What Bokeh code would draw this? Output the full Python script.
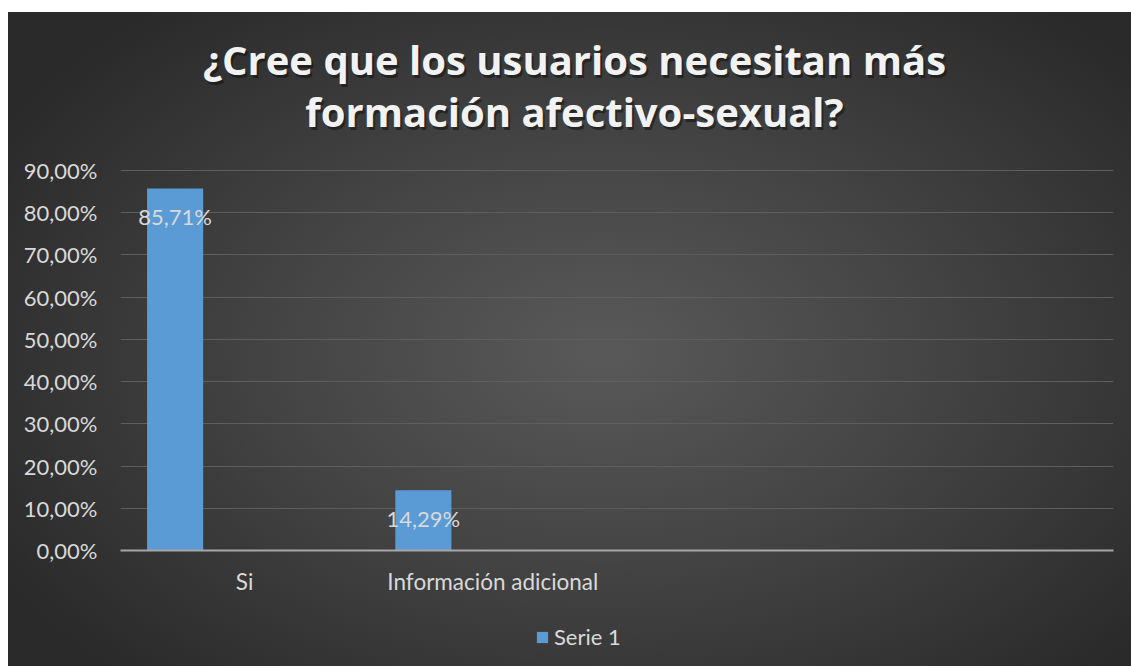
from bokeh.plotting import figure
from bokeh.layouts import column
from bokeh.models import (ColumnDataSource, Legend, LegendItem, Label,
                          CustomJSTickFormatter, FactorRange, Range1d)
from bokeh.core.properties import value
from bokeh.transform import dodge
from bokeh.embed import file_html
from bokeh.resources import INLINE

# ---- data ----
categories = ["Si", "Información adicional", " ", "  "]
bar_categories = ["Si", "Información adicional"]
serie1 = [0.8571, 0.1429]
series_name = "Serie 1"
title_line1 = "¿Cree que los usuarios necesitan más"
title_line2 = "formación afectivo-sexual?"
y_ticks = [0.0, 0.1, 0.2, 0.3, 0.4, 0.5, 0.6, 0.7, 0.8, 0.9]

labels = [f"{v*100:.2f}".replace(".", ",") + "%" for v in serie1]
src = ColumnDataSource(dict(cat=bar_categories, val=serie1, lab=labels))

FONT = "Lato"
TXT = "#d9d9d9"
BAR = "#5b9bd5"

# layout (pixels): frame spans x 120..1113; value axis 0 at y=550, 90% at y=170
W, H, LEG_H = 1131, 666, 50
MAIN_H = H - LEG_H
LEFT, RIGHT, TOP, AXIS_Y, GRID_TOP_Y = 120, 1113, 20, 550, 170
y_max = 0.9 * (AXIS_Y - TOP) / (AXIS_Y - GRID_TOP_Y)   # room above 90% for the title
px_per_unit = (AXIS_Y - GRID_TOP_Y) / 0.9
n_cat = len(categories)
BAR_W = 0.226        # bar width, in category widths
SERIES_SHIFT = -0.28  # first series of a clustered group sits left of centre


def x_at(px):
    return (px - LEFT) / (RIGHT - LEFT) * n_cat


def y_at(px):
    return (AXIS_Y - px) / px_per_unit


bg = ("radial-gradient(ellipse 62% 68% at 53% 52%, #595959 0%, #454545 45%, #2a2a2a 100%) "
      "8px 12px / 1123px 654px no-repeat, #ffffff")

p = figure(width=W, height=MAIN_H, x_range=FactorRange(*categories),
           y_range=Range1d(0, y_max), output_backend="svg", toolbar_location=None,
           min_border_left=LEFT, min_border_right=W - RIGHT, min_border_top=TOP,
           min_border_bottom=MAIN_H - AXIS_Y)
p.background_fill_alpha = 0
p.border_fill_alpha = 0
p.outline_line_color = None

xd = dodge("cat", SERIES_SHIFT, range=p.x_range)
r = p.vbar(x=xd, top="val", width=BAR_W, source=src, fill_color=BAR,
           line_color=None)

p.text(x=xd, y="val", text="lab", source=src, text_align="center",
       text_baseline="middle", y_offset=28, text_color=TXT,
       text_font_size="22px", text_font=value(FONT))

# axes
p.xgrid.grid_line_color = None
p.ygrid.grid_line_color = "#5e5e5e"
p.ygrid.grid_line_width = 1
p.yaxis.ticker = y_ticks
p.ygrid.ticker = y_ticks
p.yaxis.formatter = CustomJSTickFormatter(
    code="return (tick*100).toFixed(2).replace('.', ',') + '%';")
p.yaxis.axis_line_color = None
p.yaxis.major_tick_line_color = None
p.yaxis.major_tick_out = 0
p.yaxis.minor_tick_line_color = None
p.yaxis.major_label_standoff = 23
p.yaxis.major_label_text_font = FONT
p.yaxis.major_label_text_font_size = "22px"
p.yaxis.major_label_text_color = TXT

p.xaxis.axis_line_color = "#a6a6a6"
p.xaxis.axis_line_width = 2
p.xaxis.major_tick_line_color = None
p.xaxis.major_tick_out = 0
p.xaxis.major_label_standoff = 17
p.xaxis.major_label_text_font = FONT
p.xaxis.major_label_text_font_size = "22.5px"
p.xaxis.major_label_text_color = TXT

# title: two centred lines with a soft shadow
tx = x_at(574)
for ty, line in [(y_at(59), title_line1), (y_at(111), title_line2)]:
    p.add_layout(Label(x=tx, y=ty, text=line, text_align="center",
                       text_baseline="alphabetic", text_font="Open Sans",
                       text_font_style="bold", text_font_size="40px",
                       text_color="#0d0d0d", text_alpha=0.5,
                       x_offset=2, y_offset=-3))
    p.add_layout(Label(x=tx, y=ty, text=line, text_align="center",
                       text_baseline="alphabetic", text_font="Open Sans",
                       text_font_style="bold", text_font_size="40px",
                       text_color="#f2f2f2"))

# legend strip underneath (same series, zero-width bars so only the key shows)
lf = figure(width=W, height=LEG_H, x_range=p.x_range, y_range=Range1d(2, 3),
            output_backend="svg", toolbar_location=None, min_border=0,
            x_axis_location=None, y_axis_location=None)
lf.grid.grid_line_color = None
lf.outline_line_color = None
lf.background_fill_alpha = 0
lf.border_fill_alpha = 0
lr = lf.vbar(x="cat", top="val", width=0, source=src, fill_color=BAR,
             line_color=None)
legend = Legend(items=[LegendItem(label=series_name, renderers=[lr])],
                location=(415, 16), orientation="horizontal",
                background_fill_alpha=0, border_line_color=None,
                label_text_font=FONT, label_text_font_size="22px",
                label_text_color=TXT, glyph_width=14, glyph_height=14,
                label_standoff=5, padding=0, margin=0)
lf.add_layout(legend, "center")

layout = column(p, lf, spacing=0, styles={"background": bg})
open("out.html", "w").write(file_html(layout, INLINE))
